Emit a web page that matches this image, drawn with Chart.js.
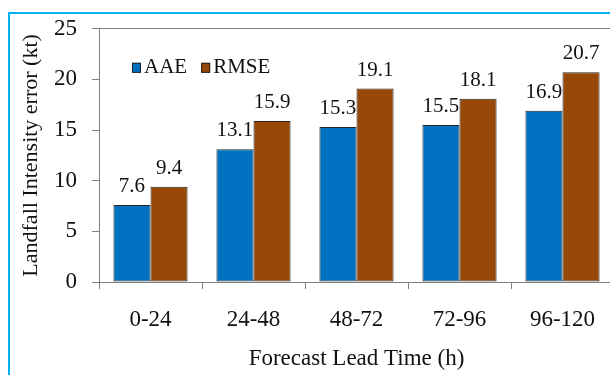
<!DOCTYPE html>
<html>
<head>
<meta charset="utf-8">
<script src="https://cdn.jsdelivr.net/npm/chart.js@4/dist/chart.umd.min.js"></script>
<style>
  html, body { margin: 0; padding: 0; background: #fff; overflow: hidden; }
  #wrap { position: relative; width: 610px; height: 375px; overflow: hidden; }
  #frame { position: absolute; left: 8px; top: 12px; width: 700px; height: 500px;
           border-left: 2px solid #00B0F0; border-top: 2px solid #00B0F0; pointer-events: none; }
  canvas { position: absolute; left: 0; top: 0; }
</style>
</head>
<body>
<div id="wrap">
  <canvas id="c" width="616" height="375" style="width:616px;height:375px"></canvas>
  <div id="frame"></div>
</div>
<script>
// Forecast lead-time windows (hours)
const categories = ['0-24', '24-48', '48-72', '72-96', '96-120'];
// Landfall intensity errors (kt)
const aae  = [7.6, 13.1, 15.3, 15.5, 16.9];
const rmse = [9.4, 15.9, 19.1, 18.1, 20.7];
const yTicks = [0, 5, 10, 15, 20, 25];

const FONT = "'Liberation Serif', 'Times New Roman', serif";
const AXIS_GRAY = '#808080';
const TEXT = '#111';

// Value labels above each bar
const valueLabels = {
  id: 'valueLabels',
  afterDatasetsDraw(chart) {
    const ctx = chart.ctx;
    ctx.save();
    ctx.font = '21px ' + FONT;
    ctx.fillStyle = TEXT;
    ctx.textAlign = 'center';
    ctx.textBaseline = 'alphabetic';
    chart.data.datasets.forEach((ds, i) => {
      chart.getDatasetMeta(i).data.forEach((bar, j) => {
        ctx.fillText(ds.data[j].toFixed(1), bar.x, bar.y - 13);
      });
    });
    ctx.restore();
  }
};

// Inline legend in the upper-left of the plot
const inlineLegend = {
  id: 'inlineLegend',
  afterDraw(chart) {
    const ctx = chart.ctx;
    const area = chart.chartArea;
    ctx.save();
    ctx.font = '21px ' + FONT;
    ctx.textBaseline = 'alphabetic';
    let x = area.left + 33;
    const y = area.top + 34;
    chart.data.datasets.forEach(ds => {
      ctx.fillStyle = ds.backgroundColor;
      ctx.fillRect(x, y, 9, 10);
      ctx.strokeStyle = '#222';
      ctx.lineWidth = 1;
      ctx.strokeRect(x + 0.5, y + 0.5, 8, 9);
      ctx.fillStyle = TEXT;
      ctx.fillText(ds.label, x + 12, y + 10);
      x += 12 + ctx.measureText(ds.label).width + 14;
    });
    ctx.restore();
  }
};

new Chart(document.getElementById('c'), {
  type: 'bar',
  data: {
    labels: categories,
    datasets: [
      { label: 'AAE',  data: aae,  backgroundColor: '#0070C0', borderColor: '#262626', borderWidth: 1, borderSkipped: false },
      { label: 'RMSE', data: rmse, backgroundColor: '#974706', borderColor: '#262626', borderWidth: 1, borderSkipped: false }
    ]
  },
  options: {
    responsive: false,
    animation: false,
    devicePixelRatio: 1,
    layout: { padding: { top: 25, left: 0, right: 2, bottom: 0 } },
    datasets: { bar: { categoryPercentage: 0.72, barPercentage: 1.0 } },
    plugins: {
      legend: { display: false },
      tooltip: { enabled: false }
    },
    scales: {
      x: {
        offset: true,
        afterFit(scale) { scale.height = 93; },
        grid: {
          offset: true,
          drawOnChartArea: false,
          tickLength: 7,
          color: AXIS_GRAY
        },
        border: { color: AXIS_GRAY, width: 1 },
        ticks: {
          color: TEXT,
          font: { family: FONT, size: 23 },
          padding: 17,
          maxRotation: 0
        },
        title: {
          display: true,
          text: 'Forecast Lead Time (h)',
          color: TEXT,
          font: { family: FONT, size: 23 },
          padding: { top: 0, bottom: 2 }
        }
      },
      y: {
        min: 0,
        max: 25,
        afterFit(scale) { scale.width = 99; },
        afterBuildTicks(scale) { scale.ticks = yTicks.map(v => ({ value: v })); },
        grid: {
          drawOnChartArea: true,
          tickLength: 7,
          color: ctx => (ctx.tick && ctx.tick.value === 25 ? AXIS_GRAY : 'rgba(0,0,0,0)'),
          tickColor: AXIS_GRAY
        },
        border: { color: AXIS_GRAY, width: 1 },
        ticks: {
          color: TEXT,
          font: { family: FONT, size: 23 },
          padding: 15
        },
        title: {
          display: true,
          text: 'Landfall Intensity error (kt)',
          color: TEXT,
          font: { family: FONT, size: 22 },
          padding: { top: 18, bottom: 0 }
        }
      }
    }
  },
  plugins: [valueLabels, inlineLegend]
});
</script>
</body>
</html>
